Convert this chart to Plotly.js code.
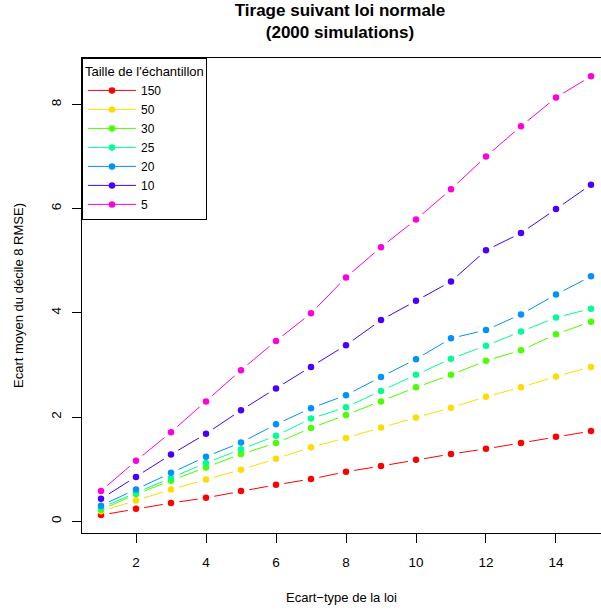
<!DOCTYPE html>
<html>
<head>
<meta charset="utf-8">
<script src="https://cdn.plot.ly/plotly-3.0.1.min.js"></script>
<style>html,body{margin:0;padding:0;background:#fff;}#chart{width:601px;height:613px;}</style>
</head>
<body>
<div id="chart"></div>
<script>
// Ecart-type de la loi
const sigma = [1, 2, 3, 4, 5, 6, 7, 8, 9, 10, 11, 12, 13, 14, 15];
// Taille de l'échantillon (legend labels)
const sampleSizes = ["150", "50", "30", "25", "20", "10", "5"];
const colors = ["#FF0000", "#FFDB00", "#49FF00", "#00FF92", "#0092FF", "#4900FF", "#FF00DB"];
// Ecart moyen du décile 8 (RMSE) per sample size
const n150 = [0.12, 0.24, 0.35, 0.45, 0.58, 0.70, 0.81, 0.95, 1.06, 1.18, 1.29, 1.39, 1.50, 1.62, 1.73];
const n50  = [0.19, 0.40, 0.61, 0.80, 0.99, 1.20, 1.42, 1.60, 1.80, 1.99, 2.18, 2.39, 2.57, 2.78, 2.96];
const n30  = [0.22, 0.52, 0.78, 1.03, 1.29, 1.50, 1.79, 2.04, 2.30, 2.57, 2.81, 3.08, 3.28, 3.59, 3.83];
const n25  = [0.26, 0.55, 0.83, 1.12, 1.38, 1.64, 1.97, 2.19, 2.50, 2.81, 3.12, 3.37, 3.64, 3.91, 4.08];
const n20  = [0.30, 0.61, 0.93, 1.24, 1.51, 1.86, 2.17, 2.42, 2.77, 3.11, 3.51, 3.67, 3.97, 4.35, 4.70];
const n10  = [0.43, 0.85, 1.28, 1.68, 2.13, 2.55, 2.96, 3.38, 3.86, 4.23, 4.60, 5.20, 5.53, 5.99, 6.46];
const n5   = [0.58, 1.16, 1.71, 2.30, 2.90, 3.46, 3.99, 4.68, 5.26, 5.79, 6.37, 7.00, 7.58, 8.13, 8.54];
const series = [n150, n50, n30, n25, n20, n10, n5];

const xTicks = [2, 4, 6, 8, 10, 12, 14];
const yTicks = [0, 2, 4, 6, 8];

const FONT = "Liberation Sans, Arial, Helvetica, sans-serif";
const traces = [];
// lines + markers (legend entries)
series.forEach((ys, i) => {
  traces.push({
    x: sigma, y: ys, type: "scatter", mode: "lines+markers",
    name: sampleSizes[i],
    line: {color: colors[i], width: 1},
    marker: {color: colors[i], size: 6.5},
    cliponaxis: false
  });
});
// white halos to leave gaps in the lines around points (R type="b")
series.forEach((ys) => {
  traces.push({
    x: sigma, y: ys, type: "scatter", mode: "markers",
    showlegend: false, hoverinfo: "skip",
    marker: {color: "#FFFFFF", size: 17},
    cliponaxis: false
  });
});
// points on top
series.forEach((ys, i) => {
  traces.push({
    x: sigma, y: ys, type: "scatter", mode: "markers",
    showlegend: false,
    marker: {color: colors[i], size: 6.5},
    cliponaxis: false
  });
});

const layout = {
  width: 601, height: 613,
  margin: {l: 82, r: 0, t: 58, b: 80},
  paper_bgcolor: "#FFFFFF", plot_bgcolor: "#FFFFFF",
  font: {family: FONT, size: 13, color: "#000000"},
  showlegend: true,
  title: {
    text: "<b>Tirage suivant loi normale</b><br><b>(2000 simulations)</b>",
    font: {family: FONT, size: 17, color: "#000000"},
    x: 0.497, xref: "paper", xanchor: "center",
    y: 0.974, yref: "container", yanchor: "top"
  },
  xaxis: {
    range: [0.457, 15.286],
    tickvals: xTicks, ticktext: xTicks.map(String),
    ticks: "outside", ticklen: 9, tickwidth: 1, tickcolor: "#000",
    showgrid: false, zeroline: false,
    showline: true, linecolor: "#000", linewidth: 1, mirror: true,
    ticklabelstandoff: 8,
    tickfont: {family: FONT, size: 13.5},
    title: {text: "Ecart\u2212type de la loi", font: {family: FONT, size: 13}, standoff: 23},
    automargin: false
  },
  yaxis: {
    range: [-0.225, 8.89],
    tickvals: yTicks, ticktext: yTicks.map(String),
    tickangle: -90,
    ticks: "outside", ticklen: 9, tickwidth: 1, tickcolor: "#000",
    showgrid: false, zeroline: false,
    showline: true, linecolor: "#000", linewidth: 1, mirror: false,
    ticklabelstandoff: 6,
    tickfont: {family: FONT, size: 13.5},
    title: {text: "Ecart moyen du décile 8 RMSE)", font: {family: FONT, size: 13}, standoff: 22},
    automargin: false
  },
  legend: {
    x: 0, y: 1, xref: "paper", yref: "paper", xanchor: "left", yanchor: "top",
    bgcolor: "#FFFFFF", bordercolor: "#000000", borderwidth: 1,
    font: {family: FONT, size: 12},
    title: {text: "Taille de l'échantillon", font: {family: FONT, size: 13}, side: "top"},
    traceorder: "normal",
    itemwidth: 48
  }
};

Plotly.newPlot("chart", traces, layout, {displayModeBar: false, staticPlot: true});
</script>
</body>
</html>
